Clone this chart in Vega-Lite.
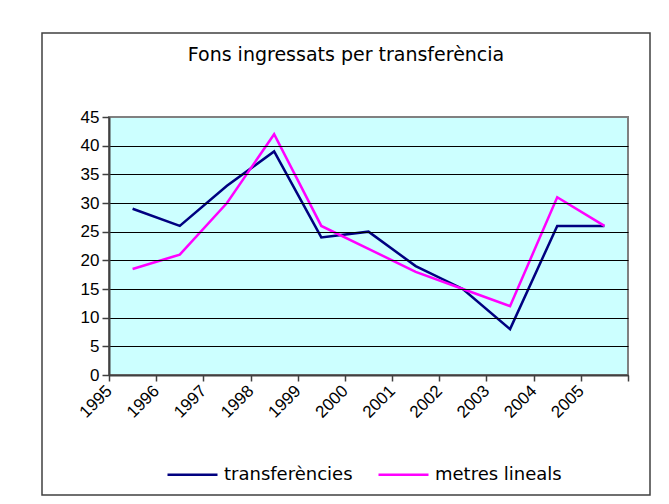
{
  "$schema": "https://vega.github.io/schema/vega-lite/v6.json",
  "autosize": {"type": "none"},
  "width": 608,
  "height": 462,
  "padding": {"left": 42, "top": 33, "right": 19, "bottom": 9},
  "background": "white",
  "title": {
    "text": "Fons ingressats per transferència",
    "font": "DejaVu Sans",
    "fontSize": 19,
    "fontWeight": "normal",
    "color": "black",
    "anchor": "middle",
    "baseline": "alphabetic",
    "offset": 0,
    "dy": 47
  },
  "config": {
    "view": {"stroke": "#404040", "strokeWidth": 1.5, "fill": "white"},
    "font": "Liberation Sans"
  },
  "datasets": {
    "series": [
      {"year": 1995, "series": "transferències", "value": 29},
      {"year": 1996, "series": "transferències", "value": 26},
      {"year": 1997, "series": "transferències", "value": 33},
      {"year": 1998, "series": "transferències", "value": 39},
      {"year": 1999, "series": "transferències", "value": 24},
      {"year": 2000, "series": "transferències", "value": 25},
      {"year": 2001, "series": "transferències", "value": 19},
      {"year": 2002, "series": "transferències", "value": 15},
      {"year": 2003, "series": "transferències", "value": 8},
      {"year": 2004, "series": "transferències", "value": 26},
      {"year": 2005, "series": "transferències", "value": 26},
      {"year": 1995, "series": "metres lineals", "value": 18.5},
      {"year": 1996, "series": "metres lineals", "value": 21},
      {"year": 1997, "series": "metres lineals", "value": 30},
      {"year": 1998, "series": "metres lineals", "value": 42},
      {"year": 1999, "series": "metres lineals", "value": 26},
      {"year": 2000, "series": "metres lineals", "value": 22},
      {"year": 2001, "series": "metres lineals", "value": 18},
      {"year": 2002, "series": "metres lineals", "value": 15},
      {"year": 2003, "series": "metres lineals", "value": 12},
      {"year": 2004, "series": "metres lineals", "value": 31},
      {"year": 2005, "series": "metres lineals", "value": 26}
    ]
  },
  "layer": [
    {
      "data": {"values": [{}]},
      "mark": {"type": "rect", "fill": "#CCFFFF", "stroke": "#808080", "strokeWidth": 2},
      "encoding": {
        "x": {
          "datum": 1994.5,
          "type": "quantitative",
          "scale": {"domain": [1994.5, 2005.5], "range": [67, 586], "nice": false, "zero": false},
          "axis": {
            "orient": "bottom",
            "offset": -120,
            "title": null,
            "grid": false,
            "values": [1994.5, 1995.5, 1996.5, 1997.5, 1998.5, 1999.5, 2000.5, 2001.5, 2002.5, 2003.5, 2004.5, 2005.5],
            "labelExpr": "datum.value < 2005 ? format(datum.value + 0.5, 'd') : ''",
            "labelAngle": -45,
            "labelAlign": "right",
            "labelBaseline": "middle",
            "labelPadding": 7,
            "labelFontSize": 17,
            "labelColor": "black",
            "labelFont": "Liberation Sans",
            "labelOverlap": false,
            "labelFlush": false,
            "labelBound": false,
            "domainColor": "#404040",
            "domainWidth": 2,
            "tickColor": "#404040",
            "tickWidth": 1.5,
            "tickSize": 6,
            "zindex": 1
          }
        },
        "x2": {"datum": 2005.5},
        "y": {
          "datum": 0,
          "type": "quantitative",
          "scale": {"domain": [0, 45], "range": [342, 84], "nice": false, "zero": false},
          "axis": {
            "orient": "left",
            "offset": -67,
            "title": null,
            "values": [0, 5, 10, 15, 20, 25, 30, 35, 40, 45],
            "grid": true,
            "gridColor": {"condition": {"test": "datum.value == 45", "value": "#808080"}, "value": "black"},
            "gridWidth": 1,
            "labelFontSize": 17,
            "labelColor": "black",
            "labelFont": "Liberation Sans",
            "labelPadding": 3,
            "labelFlush": false,
            "labelOverlap": false,
            "domainColor": "#404040",
            "domainWidth": 2,
            "tickColor": "#404040",
            "tickWidth": 1.5,
            "tickSize": 7,
            "zindex": 1
          }
        },
        "y2": {"datum": 45}
      }
    },
    {
      "data": {"name": "series"},
      "mark": {"type": "line", "strokeWidth": 2.5},
      "encoding": {
        "x": {"field": "year", "type": "quantitative"},
        "y": {"field": "value", "type": "quantitative"},
        "color": {
          "field": "series",
          "type": "nominal",
          "scale": {"domain": ["transferències", "metres lineals"], "range": ["#000080", "#FF00FF"]},
          "legend": {
            "title": null,
            "orient": "none",
            "direction": "horizontal",
            "legendX": 124,
            "legendY": 415,
            "padding": 0,
            "symbolType": "stroke",
            "symbolSize": 2500,
            "symbolStrokeWidth": 2.5,
            "labelFontSize": 18,
            "labelFont": "DejaVu Sans",
            "labelColor": "black",
            "labelOffset": 5,
            "columnPadding": 20,
            "labelLimit": 300
          }
        }
      }
    }
  ]
}
